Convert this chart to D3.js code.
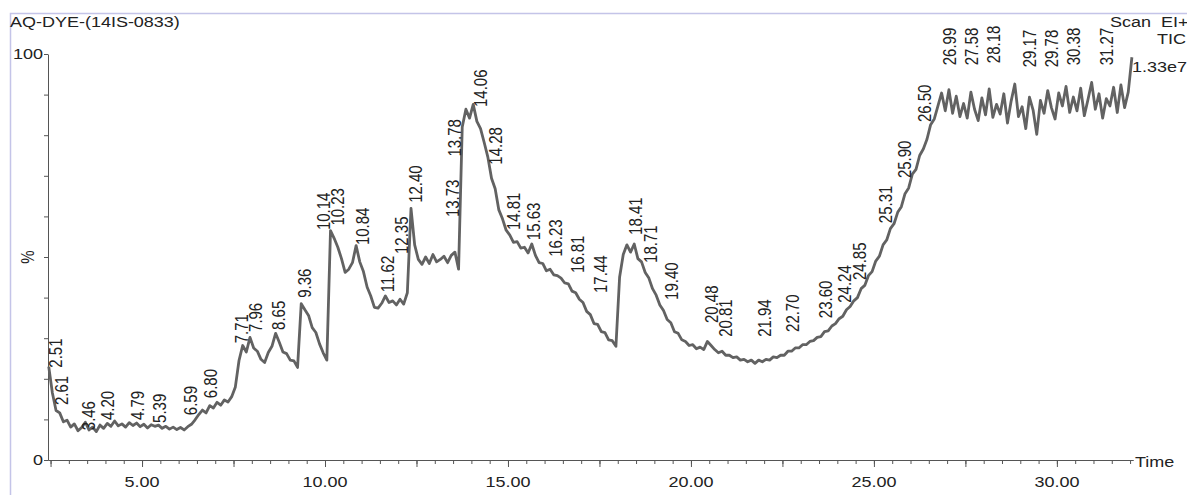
<!DOCTYPE html>
<html>
<head>
<meta charset="utf-8">
<script src="https://cdn.jsdelivr.net/npm/d3@7"></script>
<style>
  body { margin: 0; background: #fff; }
  svg { display: block; font-family: "Liberation Sans", Arial, sans-serif; }
</style>
</head>
<body>
<div id="chart"></div>
<script>
// TIC trace, one value (%) every 0.1 min starting at 2.45 min
const scanStart = 2.45, scanStep = 0.1;
const ticValues = [
  23, 16.5, 12.2, 11.6, 9.4, 9.8, 8.1, 8.9, 7.2, 8.0,
  9.3, 7.4, 8.1, 7.0, 8.6, 7.8, 9.0, 8.3, 9.6, 8.4,
  8.9, 8.1, 9.2, 8.5, 9.1, 8.2, 8.8, 7.9, 8.7, 8.3,
  8.6, 7.8, 8.3, 7.6, 8.1, 7.5, 8.0, 7.4, 8.2, 8.8,
  9.9, 11.2, 12.3, 11.6, 13.4, 12.8, 14.2, 13.5, 14.8, 14.3,
  15.6, 18.0, 24.5, 28.2, 26.6, 30.2, 27.6, 26.8, 24.8, 24.0,
  26.5, 28.0, 31.2, 29.0, 26.6, 26.2, 24.6, 24.4, 22.8, 38.5,
  37.0, 35.6, 32.6, 31.4, 28.6, 26.4, 24.6, 56.5, 54.6, 52.4,
  49.6, 46.2, 47.0, 48.6, 52.8, 48.8, 46.4, 42.6, 40.4, 37.6,
  37.4, 38.6, 40.4, 38.8, 39.2, 38.2, 39.6, 38.4, 41.2, 62.0,
  53.0, 49.4, 48.2, 50.0, 48.4, 50.6, 48.8, 49.4, 50.2, 48.6,
  50.4, 51.2, 47.0, 82.0, 86.4, 84.2, 87.6, 83.4, 81.6, 78.2,
  74.6, 69.4, 66.8, 61.6, 59.4, 56.6, 55.4, 53.6, 53.8, 52.2,
  52.4, 51.0, 53.2, 50.4, 48.6, 48.4, 46.6, 47.0, 45.6, 45.4,
  44.8, 43.6, 43.4, 41.6, 41.2, 39.6, 38.8, 36.6, 35.8, 33.6,
  33.4, 31.6, 31.4, 29.6, 29.4, 28.0, 45.0, 50.6, 53.0, 51.2,
  53.2, 49.6, 48.8, 46.2, 44.8, 42.2, 40.6, 38.2, 36.8, 34.6,
  33.8, 31.6, 31.2, 29.6, 29.2, 28.2, 28.4, 27.4, 27.8, 27.2,
  29.2, 28.2, 27.2, 26.4, 26.8, 25.8, 25.8, 25.2, 25.4, 24.6,
  24.8, 24.2, 24.6, 23.8, 24.6, 24.2, 24.8, 24.6, 25.4, 25.2,
  25.8, 25.8, 26.8, 26.8, 27.6, 27.6, 28.4, 28.4, 29.2, 29.4,
  30.2, 30.4, 31.6, 31.8, 33.0, 33.6, 34.8, 35.4, 37.0, 37.8,
  39.2, 40.0, 42.2, 43.0, 45.4, 46.4, 49.0, 50.2, 53.0, 54.2,
  57.0, 58.2, 61.0, 62.4, 65.6, 67.0, 70.4, 71.6, 75.0, 76.6,
  79.0, 82.6, 84.0, 87.2, 90.4, 86.0, 91.2, 85.4, 89.6, 84.6,
  87.8, 84.2, 90.6, 86.4, 83.6, 89.2, 85.0, 91.4, 84.4, 87.6,
  85.2, 90.2, 83.0, 88.4, 92.6, 84.6, 87.0, 81.6, 89.4, 86.2,
  80.2, 88.6, 85.4, 91.0, 86.8, 84.0, 90.4, 87.2, 92.0, 85.6,
  89.4, 86.0, 91.6, 84.8, 88.8, 93.0, 86.4, 90.2, 84.2, 89.0,
  87.2, 91.8, 85.6, 92.4, 86.8, 90.6, 99.2
];

// peak labels: retention time and the level (%) the label sits on
const peakTimes = [2.51, 2.61, 3.46, 4.20, 4.79, 5.39, 6.59, 6.80, 7.71, 7.96,
  8.65, 9.36, 10.14, 10.23, 10.84, 11.62, 12.35, 12.40, 13.73, 13.78,
  14.06, 14.28, 14.81, 15.63, 16.23, 16.81, 17.44, 18.41, 18.71, 19.40,
  20.48, 20.81, 21.94, 22.70, 23.60, 24.24, 24.85, 25.31, 25.90, 26.50,
  26.99, 27.58, 28.18, 29.17, 29.78, 30.38, 31.27];
const peakLevels = [22, 12.8, 6.6, 9.1, 9.1, 8.4, 10.3, 14.5, 28, 30.8,
  31.3, 39.2, 55.9, 57, 52.2, 40.6, 50, 62.6, 59.1, 74,
  86.2, 72, 55.9, 53.4, 49.3, 45.3, 40.4, 54.7, 47.8, 38.7,
  33, 29.6, 29.6, 30.8, 34.2, 38, 43.6, 57.6, 68.7, 82.5,
  96.5, 96.5, 97, 96, 96, 96.5, 96.5];

const xTickLabels = [5, 10, 15, 20, 25, 30];
const yTickLabels = [0, 100];
const titleText = "AQ-DYE-(14IS-0833)";
const headerLines = ["Scan  EI+", "TIC", "1.33e7"];

const W = 1187, H = 495;
const plot = {left: 48, right: 1133, top: 54, bottom: 460};
const fontSize = 15, stretch = 1.2;
const ink = "#222", axisColor = "#555", traceColor = "#626262";

const svg = d3.select("#chart").append("svg")
    .attr("width", W).attr("height", H);

svg.append("rect").attr("width", W).attr("height", H).attr("fill", "#fff");

// window frame
svg.append("path")
    .attr("d", "M10.5,495 V13.5 H" + W)
    .attr("fill", "none")
    .attr("stroke", "#c4c4e8")
    .attr("stroke-width", 1.5);

const x = d3.scaleLinear().domain([2.43, 32.08]).range([plot.left, plot.right]);
const y = d3.scaleLinear().domain([0, 100]).range([plot.bottom, plot.top]);

function stretchedText(g, tx, ty, str, anchor) {
    return g.append("text")
        .attr("transform", "translate(" + tx + "," + ty + ") scale(" + stretch + ",1)")
        .attr("text-anchor", anchor || "start")
        .attr("font-size", fontSize)
        .attr("fill", ink)
        .text(str);
}

// title and header
stretchedText(svg, 10, 27, titleText);
stretchedText(svg, 1110, 27, headerLines[0]).attr("xml:space", "preserve");
stretchedText(svg, 1157, 44, headerLines[1]);
stretchedText(svg, 1132, 72, headerLines[2]);

// x axis: minor ticks every 0.5, longer every 2.5, labels every 5
const xAxisG = svg.append("g").attr("transform", "translate(0," + plot.bottom + ")");
xAxisG.append("g")
    .call(d3.axisBottom(x).tickValues(d3.range(2.5, 32.01, 0.5)).tickSize(4).tickSizeOuter(0).tickFormat(""));
xAxisG.append("g")
    .call(d3.axisBottom(x).tickValues(d3.range(2.5, 32.01, 2.5)).tickSize(7).tickSizeOuter(0).tickFormat(""));
xAxisG.selectAll("path, line").attr("stroke", axisColor);
xTickLabels.forEach(v => {
    stretchedText(xAxisG, x(v), 27, v.toFixed(2), "middle");
});
stretchedText(svg, plot.right + 2, 467, "Time");

// y axis
const yAxisG = svg.append("g").attr("transform", "translate(" + plot.left + ",0)");
yAxisG.call(d3.axisLeft(y).tickValues(d3.range(0, 101, 10)).tickSize(4).tickSizeOuter(0).tickFormat(""));
yAxisG.selectAll("path, line").attr("stroke", axisColor);
yTickLabels.forEach(v => {
    stretchedText(yAxisG, -5, y(v) + 5, String(v), "end");
});
yAxisG.append("text")
    .attr("transform", "translate(-14," + y(50) + ") scale(" + stretch + ",1) rotate(-90)")
    .attr("text-anchor", "middle")
    .attr("font-size", fontSize)
    .attr("fill", ink)
    .text("%");

// trace
const tic = ticValues.map((v, i) => ({t: scanStart + i * scanStep, v: v}));
svg.append("path")
    .datum(tic)
    .attr("fill", "none")
    .attr("stroke", traceColor)
    .attr("stroke-width", 2.8)
    .attr("stroke-linejoin", "round")
    .attr("d", d3.line().x(d => x(d.t)).y(d => y(d.v)));

// highest trace value between two screen x positions
function traceMax(px0, px1) {
    const t0 = x.invert(px0), t1 = x.invert(px1);
    const at = t => {
        const f = (t - scanStart) / scanStep;
        const i = Math.max(0, Math.min(ticValues.length - 2, Math.floor(f)));
        const u = Math.max(0, Math.min(1, f - i));
        return ticValues[i] * (1 - u) + ticValues[i + 1] * u;
    };
    let m = Math.max(at(t0), at(t1));
    tic.forEach(d => { if (d.t > t0 && d.t < t1) m = Math.max(m, d.v); });
    return m;
}

// peak labels: slide sideways off the trace, stack upward on collisions
const labelG = svg.append("g");
const placed = [];
const half = 6.5, gap = 14;
const offsets = [3].concat(d3.range(-18, 18.01, 0.5).sort((a, b) => Math.abs(a) - Math.abs(b)));
peakTimes.forEach((t, i) => {
    const str = t.toFixed(2);
    const bottom0 = y(peakLevels[i]) - 3;
    const txt = labelG.append("text")
        .attr("font-size", fontSize)
        .attr("fill", ink)
        .attr("dy", "0.35em")
        .text(str);
    const len = txt.node().getComputedTextLength();
    const hits = (cx, b) => placed.some(p =>
        Math.abs(p.cx - cx) < gap && b > p.top - 1 && b - len < p.bottom + 1);
    const clear = (cx, b) => y(traceMax(cx - half, cx + half)) > b + 1;
    let cx = x(t) + 3, bottom = bottom0;
    const off = offsets.find(o => clear(x(t) + o, bottom0) && !hits(x(t) + o, bottom0));
    if (off !== undefined) {
        cx = x(t) + off;
    } else {
        let moved = true;
        while (moved) {
            moved = false;
            for (const p of placed) {
                if (Math.abs(p.cx - cx) < gap && bottom > p.top - 1 && bottom - len < p.bottom + 1) {
                    bottom = p.top - 1;
                    moved = true;
                }
            }
        }
    }
    placed.push({cx: cx, bottom: bottom, top: bottom - len});
    txt.attr("transform", "translate(" + cx + "," + bottom + ") scale(" + stretch + ",1) rotate(-90)");
});
</script>
</body>
</html>
